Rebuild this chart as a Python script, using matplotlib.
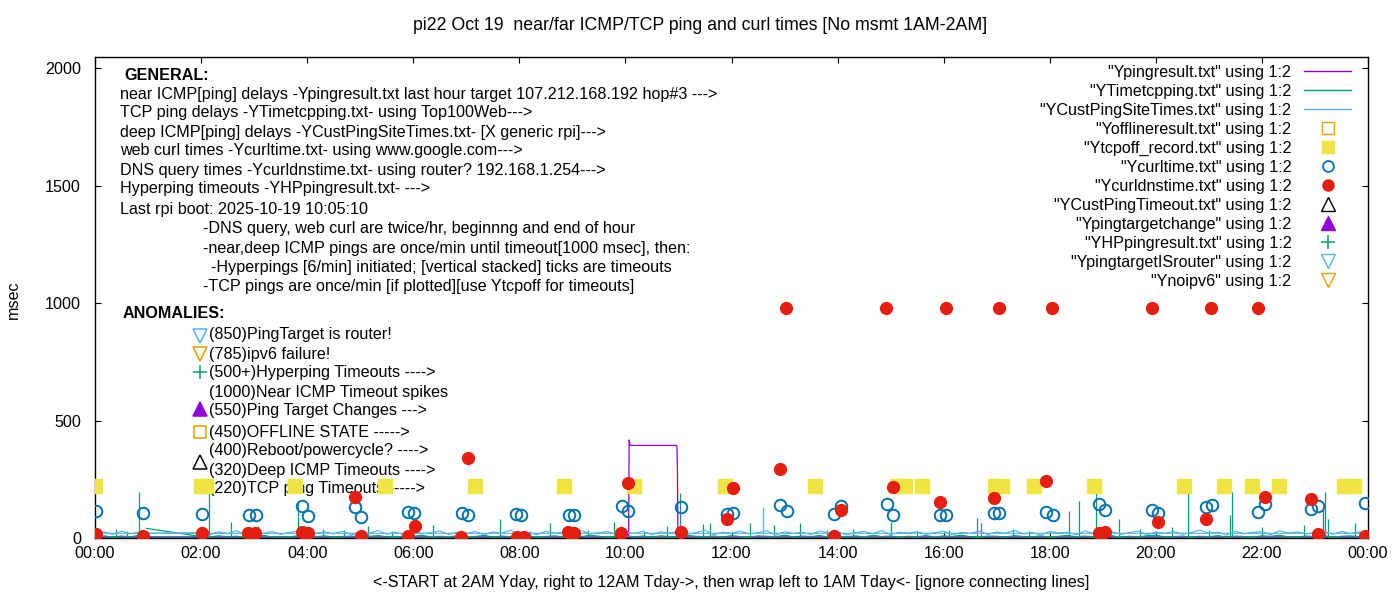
import matplotlib
matplotlib.use("Agg")
import matplotlib.pyplot as plt
import numpy as np
from matplotlib.lines import Line2D

plt.rcParams["font.family"] = ["Liberation Sans", "DejaVu Sans"]
plt.rcParams["font.size"] = 11.6

TITLE = "pi22 Oct 19  near/far ICMP/TCP ping and curl times [No msmt 1AM-2AM]"
X_LABEL = "<-START at 2AM Yday, right to 12AM Tday->, then wrap left to 1AM Tday<- [ignore connecting lines]"
Y_LABEL = "msec"
X_TICKS = [0, 2, 4, 6, 8, 10, 12, 14, 16, 18, 20, 22, 24]
X_TICKLABELS = ["00:00", "02:00", "04:00", "06:00", "08:00", "10:00", "12:00",
                "14:00", "16:00", "18:00", "20:00", "22:00", "00:00"]
Y_TICKS = [0, 500, 1000, 1500, 2000]

# line files are sampled every 10 min: 02:00 -> 24:00, then wrap 00:00 -> 01:00
STEP_H = 1 / 6
MAIN_START = 2.0
WRAP_START = 0.0

# Ypingresult.txt (near ICMP)
PING_MAIN = [3, 2, 4, 3, 5, 2, 3, 4, 2, 3, 6, 2, 4, 3, 2, 5, 3, 2, 4,
             3, 2, 5, 3, 4, 2, 3, 6, 2, 3, 4, 2, 5, 3, 2, 4, 3, 5, 2,
             4, 3, 2, 5, 3, 4, 2, 3, 6, 2, 4, 3, 2, 5, 3, 2, 4, 3, 2,
             5, 3, 4, 2, 3, 5, 2, 4, 3, 6, 2, 3, 4, 2, 5, 3, 2, 4, 3,
             2, 4, 3, 5, 2, 3, 4, 2, 6, 3, 2, 4, 3, 5, 2, 3, 4, 2, 3,
             5, 2, 4, 3, 2, 6, 3, 4, 2, 3, 5, 2, 4, 3, 2, 4, 3, 5, 2,
             3, 4, 2, 5, 3, 2, 4, 3, 6, 2, 3, 4, 2, 5, 3, 4, 2, 3, 3]
PING_WRAP = [3, 4, 2, 5, 3, 2, 4]
PING_STEP_T = [10.06, 10.07, 10.09, 10.97, 10.98, 10.99]
PING_STEP_V = [3, 417, 394, 394, 293, 4]

# YTimetcpping.txt
TCP_PRE_T = [0.97]
TCP_PRE_V = [41]
TCP_MAIN = [6, 4, 9, 5, 7, 3, 8, 11, 5, 6, 4, 10, 7, 5, 9, 3, 6, 8, 4,
            7, 10, 5, 3, 8, 6, 12, 4, 7, 5, 9, 3, 6, 11, 4, 8, 5, 7, 10,
            3, 6, 9, 4, 8, 5, 12, 7, 3, 6, 10, 5, 8, 4, 9, 6, 3, 11, 7,
            5, 8, 4, 10, 6, 3, 9, 7, 5, 12, 4, 8, 6, 10, 3, 7, 5, 9, 4,
            11, 6, 8, 3, 7, 5, 10, 4, 9, 6, 12, 5, 3, 8, 7, 4, 10, 6, 5,
            9, 3, 7, 11, 5, 8, 4, 6, 10, 3, 7, 5, 9, 12, 4, 6, 8, 3, 7,
            5, 10, 4, 8, 6, 3, 9, 7, 11, 5, 4, 8, 6, 10, 3, 7, 9, 5, 6]
TCP_WRAP = [6, 9, 4, 8, 5, 11, 7]
TCP_SPIKE_T = [0.4, 0.6, 0.83, 2.15, 2.56, 3.07, 3.82, 4.3, 4.7, 5.14, 5.6, 6.38,
               6.9, 7.64, 8.2, 8.58, 9.3, 9.78, 10.35, 10.78, 11.02, 11.46, 11.6,
               12.34, 12.81, 13.29, 13.8, 14.3, 15.01, 15.5, 16.1, 16.63, 16.7,
               17.3, 17.6, 18.37, 18.56, 18.87, 19.31, 19.7, 20.3, 20.6, 21.0,
               21.4, 21.43, 22.0, 22.8, 23.15, 23.18, 23.24, 23.76]
TCP_SPIKE_V = [40, 30, 197, 191, 69, 51, 154, 40, 35, 53, 30, 57,
               35, 81, 30, 64, 35, 69, 30, 52, 190, 61, 64,
               64, 55, 62, 35, 40, 69, 30, 35, 84, 62,
               40, 30, 115, 157, 190, 79, 40, 45, 190, 35,
               100, 197, 45, 57, 130, 197, 80, 62]

# YCustPingSiteTimes.txt (deep ICMP)
CUST_PRE_T = [0.81]
CUST_PRE_V = [20]
CUST_MAIN = [22, 14, 27, 18, 31, 12, 25, 19, 28, 15, 24, 30, 13, 21, 26, 17, 29, 14, 23,
             20, 32, 16, 25, 12, 27, 19, 22, 30, 15, 24, 18, 28, 13, 26, 21, 33, 17, 23,
             14, 29, 20, 25, 12, 31, 18, 22, 27, 15, 24, 19, 30, 13, 26, 21, 28, 16, 23,
             34, 14, 25, 20, 29, 17, 22, 31, 12, 27, 19, 24, 15, 30, 21, 26, 13, 23, 28,
             18, 32, 14, 25, 21, 27, 16, 22, 30, 13, 24, 19, 29, 15, 26, 20, 33, 17, 23,
             12, 28, 21, 25, 14, 31, 18, 24, 27, 15, 22, 30, 13, 26, 19, 28, 16, 23, 34,
             20, 25, 12, 29, 18, 24, 27, 14, 31, 21, 26, 17, 23, 30, 15, 28, 19, 25, 20]
CUST_WRAP = [20, 26, 15, 29, 18, 24, 21]
CUST_SPIKE_T = [12.59]
CUST_SPIKE_V = [133]

# Ytcpoff_record.txt
TCPOFF_T = [0.0, 1.99, 2.09, 3.77, 5.47, 7.17, 8.85, 10.17, 11.87, 13.58, 15.12,
            15.28, 15.60, 16.97, 17.10, 17.71, 18.84, 20.54, 21.29, 21.81, 22.33,
            23.54, 23.74]
TCPOFF_V = [220] * len(TCPOFF_T)

# Ycurltime.txt
CURL_T = [0.02, 0.91, 2.02, 2.90, 3.03, 3.91, 4.02, 4.90, 5.01, 5.91, 6.01, 6.91,
          7.04, 7.93, 8.04, 8.94, 9.04, 9.93, 10.04, 11.04, 11.92, 12.03, 12.92,
          13.04, 13.93, 14.06, 14.93, 15.05, 15.94, 16.04, 16.94, 17.05, 17.93,
          18.06, 18.93, 19.05, 19.93, 20.05, 20.94, 21.05, 21.93, 22.06, 22.93,
          23.06, 23.94]
CURL_V = [115, 108, 102, 97, 97, 136, 94, 130, 91, 112, 108, 105,
          97, 102, 97, 97, 97, 136, 115, 130, 102, 105, 139,
          115, 102, 136, 143, 97, 97, 97, 105, 105, 112,
          97, 145, 118, 118, 105, 130, 139, 109, 145, 122,
          136, 147]

# Ycurldnstime.txt
DNS_T = [0.02, 0.91, 2.02, 2.89, 3.02, 3.90, 4.02, 4.90, 5.02, 5.91, 6.03, 6.90,
         7.04, 7.95, 8.08, 8.92, 9.04, 9.92, 10.04, 11.04, 11.92, 12.03, 12.92,
         13.03, 13.93, 14.06, 14.91, 15.05, 15.94, 16.04, 16.94, 17.04, 17.93,
         18.04, 18.93, 19.05, 19.93, 20.05, 20.94, 21.04, 21.93, 22.06, 22.93,
         23.06, 23.94]
DNS_V = [16, 8, 20, 20, 20, 24, 20, 173, 8, 8, 52, 6,
         339, 6, 6, 27, 23, 20, 232, 24, 82, 214, 292,
         979, 8, 119, 979, 216, 154, 979, 169, 979, 244,
         979, 20, 24, 979, 67, 79, 979, 979, 176, 165,
         16, 8]

PURPLE = "#9400d3"
GREEN = "#009e73"
LBLUE = "#56b4e9"
ORANGE = "#e69f00"
YELLOW = "#f0e442"
BLUE = "#0072b2"
RED = "#e51e10"

GENERAL = [
    (120, 94, "near ICMP[ping] delays -Ypingresult.txt last hour target 107.212.168.192 hop#3 --->"),
    (120, 113, "TCP ping delays -YTimetcpping.txt- using Top100Web--->"),
    (120, 132, "deep ICMP[ping] delays -YCustPingSiteTimes.txt- [X generic rpi]--->"),
    (120, 151, "web curl times -Ycurltime.txt- using www.google.com--->"),
    (120, 170, "DNS query times -Ycurldnstime.txt- using router? 192.168.1.254--->"),
    (120, 189, "Hyperping timeouts -YHPpingresult.txt- --->"),
    (120, 209, "Last rpi boot: 2025-10-19 10:05:10"),
    (203, 229, "-DNS query, web curl are twice/hr, beginnng and end of hour"),
    (203, 248, "-near,deep ICMP pings are once/min until timeout[1000 msec], then:"),
    (211, 267, "-Hyperpings [6/min] initiated; [vertical stacked] ticks are timeouts"),
    (203, 286, "-TCP pings are once/min [if plotted][use Ytcpoff for timeouts]"),
]
ANOMALIES = [
    (335, "(850)PingTarget is router!"),
    (354, "(785)ipv6 failure!"),
    (373, "(500+)Hyperping Timeouts ---->"),
    (392, "(1000)Near ICMP Timeout spikes"),
    (411, "(550)Ping Target Changes --->"),
    (432, "(450)OFFLINE STATE ----->"),
    (451, "(400)Reboot/powercycle? ---->"),
    (470, "(320)Deep ICMP Timeouts ---->"),
    (489, "(220)TCP ping Timeouts ----->"),
]
ANOMALY_MARKS = [
    (336, "v", LBLUE, "none", 9.5),
    (354, "v", ORANGE, "none", 9.5),
    (372, "+", GREEN, GREEN, 10),
    (409, "^", PURPLE, PURPLE, 9.5),
    (432, "s", ORANGE, "none", 8.5),
    (462, "^", "black", "none", 9.5),
]

W, H = 1400, 600


def fx(x):
    return x / W


def fy(y):
    return 1 - y / H


def series(main, wrap, pre_t=(), pre_v=(), ins_t=(), ins_v=()):
    tm = MAIN_START + np.arange(len(main)) * STEP_H
    vm = np.array(main, dtype=float)
    if len(ins_t):
        keep = (tm <= ins_t[0]) | (tm >= ins_t[-1])
        tm = np.concatenate([tm[keep], ins_t])
        vm = np.concatenate([vm[keep], ins_v])
        order = np.argsort(tm)
        tm, vm = tm[order], vm[order]
    tw = WRAP_START + np.arange(len(wrap)) * STEP_H
    t = np.concatenate([pre_t, tm, tw])
    v = np.concatenate([pre_v, vm, wrap])
    return t, v


fig = plt.figure(figsize=(14, 6), dpi=100)
ax = fig.add_axes([fx(95), 1 - 538 / H, (1368 - 95) / W, (538 - 57) / H])

t, v = series(PING_MAIN, PING_WRAP, ins_t=PING_STEP_T, ins_v=PING_STEP_V)
ax.plot(t, v, c=PURPLE, lw=0.9, zorder=3)
t, v = series(TCP_MAIN, TCP_WRAP, TCP_PRE_T, TCP_PRE_V)
ax.plot(t, v, c=GREEN, lw=0.9, zorder=4)
ax.vlines(TCP_SPIKE_T, 4, TCP_SPIKE_V, colors=GREEN, lw=0.9, zorder=4)
t, v = series(CUST_MAIN, CUST_WRAP, CUST_PRE_T, CUST_PRE_V)
ax.plot(t, v, c=LBLUE, lw=0.8, zorder=5)
ax.vlines(CUST_SPIKE_T, 18, CUST_SPIKE_V, colors=LBLUE, lw=0.9, zorder=5)

ax.plot(TCPOFF_T, TCPOFF_V, ls="none", marker="s", ms=9.5, mfc=YELLOW, mec=YELLOW, zorder=6)
ax.plot(CURL_T, CURL_V, ls="none", marker="o", ms=8.3, mfc="none", mec=BLUE, mew=1.4, zorder=7)
ax.plot(DNS_T, DNS_V, ls="none", marker="o", ms=8.5, mfc=RED, mec=RED, zorder=8)

ax.set_xlim(0, 24)
ax.set_ylim(0, 2047)
ax.set_xticks(X_TICKS)
ax.set_xticklabels(X_TICKLABELS)
ax.set_yticks(Y_TICKS)
ax.tick_params(direction="in", length=4.5, width=0.8, top=True, right=True, labelsize=11.6)
ax.tick_params(axis="x", pad=6)
ax.tick_params(axis="y", pad=10)
for s in ax.spines.values():
    s.set_linewidth(1.0)

fig.text(0.5, fy(25), TITLE, ha="center", va="center", fontsize=12.8)
fig.text(fx(731), fy(583), X_LABEL, ha="center", va="center")
fig.text(fx(13), fy(300), Y_LABEL, ha="center", va="center", rotation=90)

# labels sit behind the data, as in the gnuplot original
ax.text(fx(124), fy(75), "GENERAL:", transform=fig.transFigure, va="center",
        fontweight="bold", zorder=1)
for x, y, s in GENERAL:
    ax.text(fx(x), fy(y), s, transform=fig.transFigure, va="center", zorder=1)
ax.text(fx(123), fy(314), "ANOMALIES:", transform=fig.transFigure, va="center",
        fontweight="bold", zorder=1)
for y, s in ANOMALIES:
    ax.text(fx(209), fy(y), s, transform=fig.transFigure, va="center", zorder=1)
for y, m, ec, fc, ms in ANOMALY_MARKS:
    ax.plot([fx(200)], [fy(y)], transform=fig.transFigure, marker=m, ms=ms,
            mec=ec, mfc=fc, mew=1.1, ls="none", clip_on=False, zorder=1)

handles = [
    Line2D([], [], c=PURPLE, lw=1),
    Line2D([], [], c=GREEN, lw=1),
    Line2D([], [], c=LBLUE, lw=1),
    Line2D([], [], ls="none", marker="s", ms=9, mfc="none", mec=ORANGE),
    Line2D([], [], ls="none", marker="s", ms=9, mfc=YELLOW, mec=YELLOW),
    Line2D([], [], ls="none", marker="o", ms=7.8, mfc="none", mec=BLUE, mew=1.3),
    Line2D([], [], ls="none", marker="o", ms=8, mfc=RED, mec=RED),
    Line2D([], [], ls="none", marker="^", ms=10.5, mfc="none", mec="black"),
    Line2D([], [], ls="none", marker="^", ms=10.5, mfc=PURPLE, mec=PURPLE),
    Line2D([], [], ls="none", marker="+", ms=10, mec=GREEN, mew=1.1),
    Line2D([], [], ls="none", marker="v", ms=10.5, mfc="none", mec=LBLUE),
    Line2D([], [], ls="none", marker="v", ms=10.5, mfc="none", mec=ORANGE),
]
labels = ['"Ypingresult.txt" using 1:2', '"YTimetcpping.txt" using 1:2',
          '"YCustPingSiteTimes.txt" using 1:2', '"Yofflineresult.txt" using 1:2',
          '"Ytcpoff_record.txt" using 1:2', '"Ycurltime.txt" using 1:2',
          '"Ycurldnstime.txt" using 1:2', '"YCustPingTimeout.txt" using 1:2',
          '"Ypingtargetchange" using 1:2', '"YHPpingresult.txt" using 1:2',
          '"YpingtargetISrouter" using 1:2', '"Ynoipv6" using 1:2']
ax.legend(handles, labels, loc="upper right", bbox_to_anchor=(fx(1351), fy(65)),
          bbox_transform=fig.transFigure, frameon=False, markerfirst=False,
          borderpad=0, borderaxespad=0, handlelength=2.9, handletextpad=0.8,
          labelspacing=0.245, fontsize=11.6)

fig.savefig("out.png", dpi=100)
